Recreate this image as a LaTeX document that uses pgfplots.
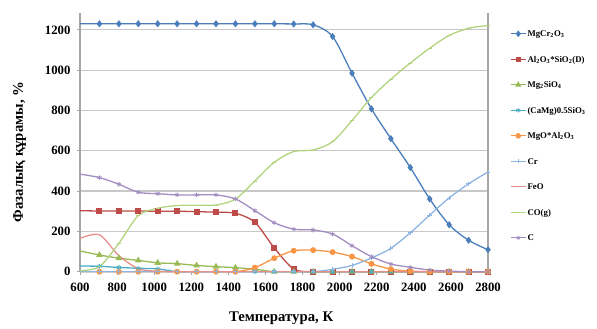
\documentclass[border=0pt]{standalone}
\usepackage{pgfplots}
\pgfplotsset{compat=1.18}
\usepackage{pgfplotstable}
\usepackage{fontspec}
\setmainfont{Liberation Serif}
\definecolor{cA}{HTML}{4A7EBB}
\definecolor{cB}{HTML}{BE4B48}
\definecolor{cC}{HTML}{98B954}
\definecolor{cD}{HTML}{4BACC6}
\definecolor{cE}{HTML}{F79646}
\definecolor{cF}{HTML}{8EB4E3}
\definecolor{cG}{HTML}{E6908E}
\definecolor{cH}{HTML}{B3D47F}
\definecolor{cI}{HTML}{A28DC1}
\definecolor{gridc}{HTML}{C8C8C8}
\definecolor{axc}{HTML}{A6A6A6}
\pgfplotstableread{
T       MgCr  AlSi  MgSi  CaMg  MgAl  Cr   FeO  CO    C
600     1230  303   103   28    0     0    165  5     484
704.76  1230  301   83    27    0     0    183  25    467
809.52  1230  301   67    21    0     0    80   141   434
914.29  1230  301   56    17    0     0    15   278   394
1019.05 1230  300   44    14    0     0    2    315   387
1123.81 1230  300   40    0     0     0    0    328   381
1228.57 1230  298   31    0     0     0    0    330   381
1333.33 1230  295   25    0     0     0    0    331   381
1438.10 1230  290   20    0     0     0    0    360   361
1542.86 1230  245   12    0     20    0    0    450   303
1647.62 1230  118   0     0     67    0    0    543   243
1752.38 1229  13    0     0     104   0    0    596   211
1857.14 1225  0     0     0     107   0    0    604   207
1961.90 1167  0     0     0     97    12   0    645   187
2066.67 985   0     0     0     75    31   0    750   129
2171.43 808   0     0     0     39    68   0    864   75
2276.19 660   0     0     0     13    116  0    955   38
2380.95 517   0     0     0     3     193  0    1035  22
2485.71 361   0     0     0     0     281  0    1109  8
2590.48 233   0     0     0     0     366  0    1172  3
2695.24 156   0     0     0     0     436  0    1208  0
2800    109   0     0     0     0     495  0    1221  0
}\data
\begin{document}
\begin{tikzpicture}
\begin{axis}[
  name=ax,
  scale only axis,
  width=408bp, height=259bp,
  xmin=600, xmax=2800, ymin=0, ymax=1285,
  xtick={600,800,...,2800}, ytick={0,200,...,1200},
  axis x line*=bottom, axis y line*=left,
  axis line style={-, draw=axc, line width=1.3pt},
  ymajorgrids, major grid style={gridc, line width=1.2pt},
  tick style={axc, line width=0.8pt}, major tick length=3bp,
  tick align=outside,
  /pgf/number format/assume math mode=true,
  /pgf/number format/set thousands separator={},
  ticklabel style={font=\fontsize{12.8}{14}\selectfont\bfseries},
  xticklabel style={yshift=-4.5bp},
  yticklabel style={xshift=-3bp},
  xlabel={Температура, К},
  ylabel={Фазалық құрамы, \%},
  label style={font=\fontsize{14.8}{16}\selectfont\bfseries},
  xlabel style={at={(axis description cs:0.493,-0.179)}, anchor=center},
  ylabel style={at={(axis description cs:-0.148,0.462)}, anchor=center},
  clip=false,
  every axis plot/.append style={smooth, tension=0.5, line width=1.3pt, mark phase=2, mark repeat=1},
  legend style={at={(axis description cs:1.046,0.95)}, anchor=north west, draw=none, fill=none,
    font=\fontsize{8.8}{10}\selectfont\bfseries, row sep=13.5bp,
    nodes={text height=8bp, text depth=2bp, inner sep=1bp}},
  legend cell align=left,
  legend image post style={scale=0.9},
]
\addplot[cA, mark=diamond*, mark size=2.6pt] table[x=T,y=MgCr]{\data};
\addlegendentry{MgCr\textsubscript{2}O\textsubscript{3}}
\addplot[cB, mark=square*, mark size=2.3pt] table[x=T,y=AlSi]{\data};
\addlegendentry{Al\textsubscript{2}O\textsubscript{3}*SiO\textsubscript{2}(D)}
\addplot[cC, mark=triangle*, mark size=2.6pt] table[x=T,y=MgSi]{\data};
\addlegendentry{Mg\textsubscript{2}SiO\textsubscript{4}}
\addplot[cD, mark=asterisk, mark size=2.5pt, mark options={line width=0.8pt}] table[x=T,y=CaMg]{\data};
\addlegendentry{(CaMg)0.5SiO\textsubscript{3}}
\addplot[cE, mark=*, mark size=2.3pt] table[x=T,y=MgAl]{\data};
\addlegendentry{MgO*Al\textsubscript{2}O\textsubscript{3}}
\addplot[cF, mark=+, mark size=2.3pt, mark options={line width=0.8pt}] table[x=T,y=Cr]{\data};
\addlegendentry{Cr}
\addplot[cG, no marks] table[x=T,y=FeO]{\data};
\addlegendentry{FeO}
\addplot[cH, mark=-, mark size=2pt, mark options={line width=0.8pt}] table[x=T,y=CO]{\data};
\addlegendentry{CO(g)}
\addplot[cI, mark=asterisk, mark size=2.3pt, mark options={line width=0.8pt}] table[x=T,y=C]{\data};
\addlegendentry{C}
\draw[axc, line width=1.3pt] (rel axis cs:1,0) -- (rel axis cs:1,1);
\end{axis}
\path (ax.south west) ++(-80bp,-57.3bp) rectangle ++(597bp,329bp);
\end{tikzpicture}
\end{document}
